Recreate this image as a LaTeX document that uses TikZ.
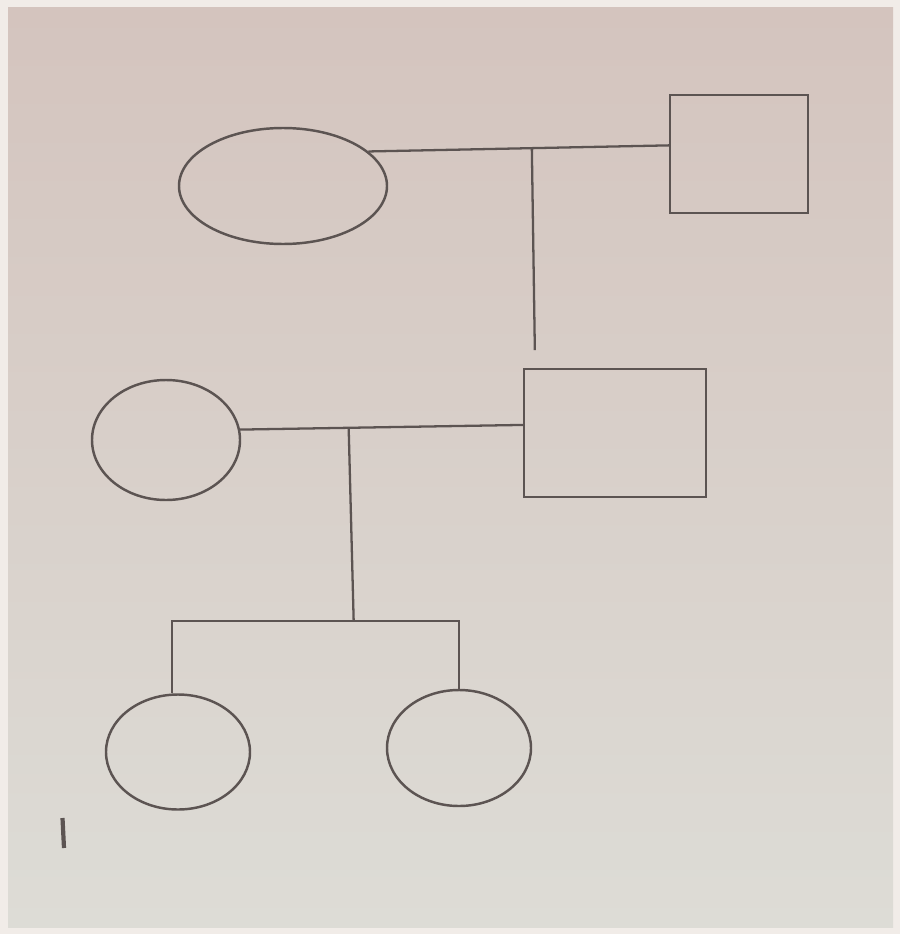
\documentclass[tikz,border=0pt]{standalone}
\usepackage{tikz}
\usetikzlibrary{positioning,shapes.geometric}
\definecolor{paperedge}{RGB}{241,236,232}
\definecolor{papertop}{RGB}{212,196,190}
\definecolor{paperbot}{RGB}{221,220,214}
\definecolor{ink}{RGB}{92,84,82}

\begin{document}
\begin{tikzpicture}[
  female/.style={draw=ink,ellipse,line width=1.4pt,inner sep=0pt},
  male/.style={draw=ink,rectangle,line width=1.4pt,inner sep=0pt},
  link/.style={draw=ink,line width=1.3pt}]
% paper
\fill[paperedge] (0,0) rectangle (18,-18.68);
\shade[top color=papertop,bottom color=paperbot] (0.16,-0.16) rectangle (17.86,-18.54);
\useasboundingbox (0,0) rectangle (18,-18.68);
% generation I
\node[female,minimum width=4.16cm,minimum height=2.32cm] (f1) at (5.66,-3.72) {};
\node[male,minimum width=2.76cm,minimum height=2.36cm] (m1) at (14.78,-3.08) {};
% generation II
\node[female,minimum width=2.96cm,minimum height=2.4cm] (f2) at (3.32,-8.8) {};
\node[male,minimum width=3.64cm,minimum height=2.56cm] (m2) at (12.3,-8.66) {};
% generation III
\node[female,minimum width=2.88cm,minimum height=2.3cm] (ch1) at (3.56,-15.04) {};
\node[female,minimum width=2.88cm,minimum height=2.32cm] (ch2) at (9.18,-14.96) {};
% couples
\draw[link] (f1.22) -- (m1.173) coordinate[pos=0.544] (pm1);
\draw[link] (f2.8) -- (m2.175) coordinate[pos=0.384] (pm2);
% descent
\draw[link] (pm1) -- ++(0.06,-4.04) coordinate (d1);
\draw[link] (pm2) -- ++(0.1,-3.86) coordinate (sib);
\draw[link] (ch1.96) |- (sib) -| (ch2.north);
% mark
\draw[ink,line width=2.4pt] (1.25,-16.36) -- (1.28,-16.96);
\end{tikzpicture}
\end{document}
